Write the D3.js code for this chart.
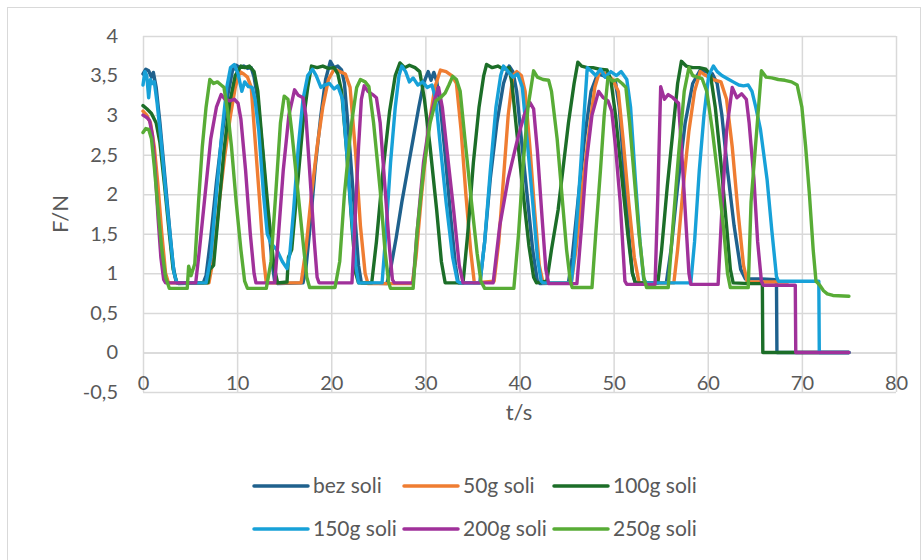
<!DOCTYPE html>
<html><head><meta charset="utf-8">
<script src="https://cdn.jsdelivr.net/npm/d3@7"></script>
<style>
body{margin:0;background:#fff;}
svg text{font-family:Lato,"Open Sans",sans-serif;fill:#595959;}
</style>
</head><body>
<svg id="chart" width="923" height="560"></svg>
<script>
// ---------- data ----------
const seriesNames = ["bez soli","50g soli","100g soli","150g soli","200g soli","250g soli"];
const seriesColors = ["#1f618d","#ef7d32","#1c6e28","#17a1d8","#a0319a","#58ac36"];
const xTicks = [0,10,20,30,40,50,60,70,80];
const yTicks = [-0.5,0,0.5,1,1.5,2,2.5,3,3.5,4];
const xTitle = "t/s";
const yTitle = "F/N";

const bezSoli = [[0,3.52],[0.3,3.58],[0.6,3.56],[0.9,3.48],[1.1,3.54],[1.4,3.35],[1.8,2.9],[2.3,2.25],[2.8,1.6],[3.2,1.1],[3.5,0.9],[3.8,0.87],[6.4,0.88],[6.7,0.97],[7.2,1.45],[7.8,2.15],[8.4,2.75],[9.0,3.25],[9.5,3.56],[9.9,3.63],[10.3,3.6],[10.7,3.62],[11.1,3.59],[11.5,3.6],[11.8,3.48],[12.2,3.2],[12.7,2.55],[13.2,1.8],[13.7,1.15],[14.0,0.89],[14.3,0.87],[17.0,0.88],[17.3,1.05],[17.8,1.65],[18.3,2.35],[18.9,3.0],[19.4,3.45],[19.9,3.68],[20.3,3.6],[20.7,3.62],[21.1,3.57],[21.4,3.4],[21.9,2.7],[22.4,1.9],[22.9,1.1],[23.2,0.88],[25.9,0.87],[26.3,1.05],[26.9,1.45],[27.5,1.9],[28.1,2.3],[28.7,2.7],[29.3,3.1],[29.8,3.4],[30.3,3.55],[30.6,3.44],[30.9,3.54],[31.2,3.43],[31.6,3.1],[32.1,2.5],[32.7,1.7],[33.2,1.1],[33.5,0.88],[35.8,0.88],[36.3,1.4],[36.9,2.2],[37.6,2.9],[38.3,3.4],[38.9,3.62],[39.3,3.55],[39.7,3.3],[40.2,2.7],[40.8,2.0],[41.4,1.3],[41.9,0.9],[42.2,0.87],[45.2,0.88],[45.6,1.2],[46.2,1.9],[46.9,2.7],[47.6,3.3],[48.3,3.52],[48.9,3.5],[49.5,3.46],[50.2,3.42],[50.6,3.1],[51.1,2.3],[51.6,1.5],[52.0,1.0],[52.3,0.88],[55.6,0.88],[56.1,1.3],[56.8,2.1],[57.6,2.9],[58.4,3.4],[59.2,3.57],[59.8,3.55],[60.5,3.52],[61.0,3.4],[61.5,3.0],[62.1,2.3],[62.8,1.6],[63.5,1.05],[64.0,0.93],[65.5,0.93],[67.3,0.92],[67.35,0],[75,0]];

const soli50 = [[0,3.05],[0.4,3.0],[0.8,2.9],[1.2,2.6],[1.6,2.1],[2.0,1.5],[2.4,1.0],[2.7,0.88],[7.0,0.88],[7.5,1.2],[8.1,1.9],[8.7,2.5],[9.3,3.0],[9.8,3.35],[10.3,3.55],[10.7,3.52],[11.1,3.48],[11.5,3.35],[11.9,2.7],[12.4,1.9],[12.8,1.2],[13.1,0.88],[16.8,0.88],[17.3,1.3],[17.9,2.0],[18.5,2.6],[19.1,3.1],[19.7,3.45],[20.3,3.58],[20.9,3.55],[21.5,3.52],[22.0,3.35],[22.6,2.5],[23.1,1.6],[23.6,1.0],[23.9,0.87],[28.6,0.87],[29.0,1.2],[29.6,2.0],[30.3,2.8],[31.0,3.35],[31.6,3.57],[32.2,3.55],[32.8,3.5],[33.3,3.4],[33.8,2.8],[34.3,2.0],[34.8,1.3],[35.2,0.88],[37.3,0.9],[37.8,1.4],[38.3,2.2],[38.8,3.0],[39.3,3.5],[39.7,3.55],[40.2,3.5],[40.6,3.3],[41.1,2.6],[41.6,1.8],[42.1,1.1],[42.5,0.88],[45.5,0.88],[46.0,1.3],[46.7,2.1],[47.4,2.8],[48.0,3.35],[48.5,3.55],[49.2,3.52],[49.9,3.45],[50.5,3.3],[51.0,2.7],[51.6,1.9],[52.2,1.2],[52.7,0.88],[56.4,0.88],[56.8,1.3],[57.4,2.1],[58.0,2.8],[58.6,3.3],[59.2,3.55],[59.8,3.5],[60.6,3.45],[61.4,3.42],[62.0,3.2],[62.6,2.6],[63.2,1.8],[63.8,1.1],[64.2,0.89],[66.0,0.89],[68.5,0.89]];

const soli100 = [[0,3.12],[0.4,3.08],[0.9,3.02],[1.4,2.9],[1.8,2.65],[2.3,2.1],[2.8,1.5],[3.2,1.05],[3.6,0.88],[6.9,0.88],[7.1,1.05],[7.5,1.1],[8.0,1.75],[8.6,2.55],[9.2,3.15],[9.8,3.5],[10.4,3.62],[10.8,3.6],[11.3,3.62],[11.8,3.55],[12.2,3.3],[12.7,2.6],[13.3,1.8],[13.9,1.1],[14.3,0.88],[15.3,0.89],[15.45,1.2],[15.8,1.3],[16.4,2.1],[17.0,2.9],[17.5,3.35],[17.9,3.62],[18.5,3.6],[19.1,3.62],[19.7,3.59],[20.3,3.6],[20.7,3.52],[21.1,3.3],[21.6,2.6],[22.2,1.6],[22.6,1.0],[22.9,0.88],[24.3,0.88],[24.8,1.4],[25.5,2.3],[26.2,3.05],[26.8,3.5],[27.3,3.66],[27.8,3.6],[28.3,3.63],[28.9,3.6],[29.4,3.55],[29.9,3.2],[30.5,2.6],[31.2,1.8],[31.7,1.15],[32.1,0.88],[34.0,0.88],[34.5,1.5],[35.1,2.4],[35.7,3.1],[36.2,3.5],[36.5,3.64],[37.1,3.6],[37.7,3.62],[38.3,3.58],[38.9,3.6],[39.2,3.4],[39.7,2.8],[40.4,2.0],[41.0,1.35],[41.5,0.95],[41.8,0.88],[42.9,0.9],[43.4,1.3],[44.1,1.8],[44.7,2.4],[45.2,2.9],[45.8,3.4],[46.2,3.67],[46.6,3.62],[47.2,3.6],[47.8,3.6],[48.5,3.58],[49.3,3.57],[49.7,3.45],[50.2,3.0],[50.8,2.3],[51.5,1.5],[52.0,1.0],[52.3,0.88],[54.7,0.88],[55.1,1.3],[55.7,2.1],[56.3,2.8],[56.8,3.4],[57.2,3.68],[57.7,3.62],[58.4,3.6],[59.1,3.6],[59.8,3.58],[60.3,3.5],[60.8,3.1],[61.4,2.4],[62.0,1.6],[62.4,1.05],[62.7,0.88],[64.5,0.87],[65.8,0.87],[65.85,0],[75,0]];

const soli150 = [[0,3.38],[0.2,3.55],[0.4,3.5],[0.6,3.22],[0.8,3.45],[1.0,3.4],[1.2,3.42],[1.5,3.15],[1.9,2.7],[2.4,2.05],[2.9,1.45],[3.3,1.0],[3.6,0.88],[6.7,0.88],[7.2,1.2],[7.8,2.0],[8.4,2.8],[8.9,3.35],[9.3,3.6],[9.7,3.64],[10.1,3.52],[10.5,3.3],[10.8,3.42],[11.2,3.36],[11.6,3.35],[11.9,3.2],[12.3,2.8],[12.8,2.0],[13.2,1.5],[13.6,1.38],[14.2,1.3],[14.8,1.15],[15.3,1.06],[15.6,1.25],[16.0,1.8],[16.5,2.6],[17.0,3.2],[17.5,3.5],[18.0,3.58],[18.4,3.5],[18.9,3.35],[19.3,3.38],[19.8,3.4],[20.3,3.33],[20.7,3.37],[21.2,3.2],[21.6,2.6],[22.1,1.8],[22.6,1.1],[22.9,0.88],[25.4,0.88],[25.8,1.5],[26.3,2.4],[26.8,3.1],[27.2,3.5],[27.5,3.62],[27.9,3.55],[28.3,3.42],[28.7,3.47],[29.2,3.38],[29.7,3.42],[30.2,3.35],[30.7,3.38],[31.1,3.2],[31.6,2.6],[32.2,1.9],[32.9,1.2],[33.4,0.9],[33.7,0.88],[35.8,0.88],[36.3,1.4],[36.9,2.3],[37.5,3.1],[38.0,3.5],[38.3,3.62],[38.8,3.55],[39.3,3.48],[39.8,3.52],[40.3,3.35],[40.8,2.7],[41.4,1.9],[41.9,1.2],[42.3,0.9],[42.5,0.88],[45.5,0.88],[45.8,1.2],[46.3,2.0],[46.8,2.9],[47.2,3.6],[47.6,3.56],[48.1,3.5],[48.6,3.58],[49.1,3.48],[49.7,3.55],[50.3,3.5],[50.8,3.55],[51.4,3.45],[51.8,3.1],[52.3,2.2],[52.8,1.4],[53.2,0.92],[53.5,0.88],[58.2,0.88],[58.6,1.4],[59.1,2.3],[59.6,3.0],[60.1,3.5],[60.6,3.62],[61.0,3.55],[61.5,3.5],[62.1,3.46],[62.7,3.42],[63.3,3.38],[63.8,3.37],[64.3,3.38],[64.7,3.3],[65.1,3.1],[65.6,2.82],[66.3,2.19],[66.8,1.55],[67.3,0.96],[67.5,0.9],[70.0,0.9],[71.8,0.9],[71.85,0],[75,0]];

const soli200 = [[0,3.0],[0.4,2.97],[0.7,2.93],[1.0,2.75],[1.3,2.3],[1.6,1.7],[1.9,1.2],[2.2,0.92],[2.4,0.88],[5.6,0.88],[6.0,1.3],[6.6,2.0],[7.2,2.7],[7.8,3.1],[8.3,3.26],[8.7,3.2],[9.2,3.18],[9.7,3.2],[10.1,3.15],[10.4,2.95],[10.9,2.3],[11.4,1.5],[11.8,1.0],[12.0,0.88],[14.0,0.88],[14.4,1.5],[14.9,2.3],[15.5,3.0],[16.1,3.32],[16.5,3.25],[17.0,3.22],[17.3,3.0],[17.7,2.3],[18.2,1.4],[18.5,0.95],[18.7,0.88],[22.2,0.88],[22.5,1.6],[22.9,2.6],[23.2,3.2],[23.5,3.37],[23.9,3.3],[24.4,3.26],[24.8,3.22],[25.2,2.9],[25.7,2.1],[26.2,1.3],[26.5,0.92],[26.7,0.88],[28.7,0.88],[29.1,1.5],[29.8,2.4],[30.5,2.95],[31.0,3.2],[31.4,3.35],[31.8,3.1],[32.3,2.55],[33.0,1.8],[33.6,1.1],[34.0,0.88],[37.2,0.88],[37.9,1.6],[38.8,2.2],[39.8,2.7],[40.5,3.0],[41.1,3.16],[41.5,3.08],[41.9,2.55],[42.4,1.7],[42.8,1.05],[43.1,0.87],[46.1,0.87],[46.6,1.6],[47.1,2.4],[47.7,3.0],[48.4,3.3],[48.9,3.22],[49.4,3.18],[49.8,3.05],[50.2,2.6],[50.7,1.9],[51.0,1.3],[51.2,0.9],[51.4,0.86],[54.4,0.86],[54.7,2.0],[55.0,3.36],[55.4,3.2],[55.8,3.26],[56.3,3.22],[56.9,3.15],[57.3,2.4],[57.7,1.6],[58.0,1.0],[58.2,0.86],[61.1,0.86],[61.5,1.8],[62.0,2.8],[62.6,3.35],[63.1,3.22],[63.6,3.27],[64.1,3.2],[64.4,2.9],[64.9,2.2],[65.3,1.4],[65.7,0.9],[65.9,0.85],[69.3,0.85],[69.35,0],[75,0]];

const soli250 = [[0,2.78],[0.3,2.83],[0.6,2.82],[0.9,2.7],[1.2,2.35],[1.6,1.8],[2.0,1.3],[2.4,0.95],[2.8,0.81],[4.7,0.81],[4.85,1.09],[5.1,0.97],[5.5,1.12],[5.9,1.9],[6.3,2.6],[6.7,3.1],[7.1,3.45],[7.5,3.4],[7.9,3.42],[8.3,3.38],[8.6,3.35],[9.0,3.05],[9.4,2.6],[9.9,1.9],[10.4,1.3],[10.8,0.9],[11.1,0.81],[13.1,0.81],[13.6,1.15],[14.1,2.0],[14.6,2.9],[15.0,3.24],[15.4,3.2],[15.8,2.8],[16.4,2.1],[17.0,1.4],[17.4,0.95],[17.7,0.82],[20.4,0.82],[20.9,1.15],[21.4,2.0],[22.1,2.85],[22.7,3.35],[23.1,3.45],[23.6,3.42],[24.0,3.36],[24.5,2.9],[25.2,2.05],[25.7,1.3],[26.1,0.88],[26.3,0.81],[28.7,0.81],[29.1,1.5],[29.8,2.3],[30.5,2.9],[31.1,3.18],[31.6,3.22],[32.1,3.28],[32.5,3.38],[32.9,3.49],[33.3,3.45],[33.7,3.3],[34.2,2.7],[34.9,1.9],[35.5,1.25],[35.9,0.9],[36.3,0.81],[39.4,0.81],[39.9,1.5],[40.4,2.4],[40.9,3.1],[41.5,3.56],[41.9,3.48],[42.5,3.45],[43.1,3.44],[43.4,3.3],[44.0,2.7],[44.5,2.0],[45.0,1.3],[45.4,0.9],[45.6,0.82],[47.7,0.82],[48.1,1.5],[48.6,2.3],[49.0,3.0],[49.4,3.48],[49.9,3.43],[50.4,3.45],[50.9,3.4],[51.3,3.35],[51.7,2.9],[52.2,2.2],[52.7,1.5],[53.2,0.95],[53.5,0.82],[55.8,0.82],[56.3,1.6],[56.9,2.5],[57.5,3.3],[58.0,3.6],[58.4,3.5],[58.9,3.48],[59.4,3.46],[59.9,3.3],[60.5,2.8],[61.1,2.2],[61.7,1.55],[62.1,1.0],[62.4,0.82],[64.3,0.82],[64.6,1.9],[65.2,2.8],[65.7,3.56],[66.2,3.48],[66.8,3.47],[67.5,3.45],[68.2,3.44],[68.9,3.42],[69.5,3.38],[70.0,3.1],[70.4,2.6],[70.8,2.0],[71.2,1.3],[71.5,0.9],[71.9,0.85],[72.3,0.78],[72.7,0.74],[73.3,0.72],[75,0.71]];

const seriesData = [bezSoli, soli50, soli100, soli150, soli200, soli250];

// ---------- layout ----------
const svg = d3.select("#chart");
const W = 923, H = 560;
const x = d3.scaleLinear().domain([0,80]).range([143,896]);
const y = d3.scaleLinear().domain([-0.5,4]).range([392,36]);
const fmt = d => String(d).replace(".", ",");

svg.append("rect").attr("width",W).attr("height",H).attr("fill","#fff");
svg.append("rect").attr("x",7.5).attr("y",7.5).attr("width",913).attr("height",H)
  .attr("fill","none").attr("stroke","#d9d9d9").attr("stroke-width",1);

// horizontal gridlines + y labels
const yAxis = d3.axisLeft(y).tickValues(yTicks).tickFormat(fmt)
  .tickSize(-(x(80)-x(0))).tickPadding(25);
const gy = svg.append("g").attr("transform",`translate(${x(0)},0)`).call(yAxis);
gy.select(".domain").remove();
gy.selectAll(".tick line").attr("stroke","#d9d9d9").attr("stroke-width",1.5);
gy.selectAll(".tick text").attr("font-size",20).attr("fill","#595959")
  .attr("font-family","Lato");

// vertical gridlines
const xGrid = d3.axisBottom(x).tickValues(xTicks).tickSize(-(y(-0.5)-y(4))).tickFormat("");
const gxg = svg.append("g").attr("transform",`translate(0,${y(-0.5)})`).call(xGrid);
gxg.select(".domain").remove();
gxg.selectAll(".tick line").attr("stroke","#d9d9d9").attr("stroke-width",1.5);

// x axis labels at y = 0
const xAxis = d3.axisBottom(x).tickValues(xTicks).tickFormat(fmt).tickSize(0).tickPadding(23);
const gx = svg.append("g").attr("transform",`translate(0,${y(0)})`).call(xAxis);
gx.select(".domain").attr("stroke","#d9d9d9").attr("stroke-width",1.5);
gx.selectAll(".tick text").attr("font-size",20).attr("fill","#595959")
  .attr("font-family","Lato");

// series
const line = d3.line().x(d => x(d[0])).y(d => y(d[1]));
const gs = svg.append("g");
seriesData.forEach((s,i) => {
  gs.append("path").datum(s).attr("d",line)
    .attr("fill","none").attr("stroke",seriesColors[i])
    .attr("stroke-width",3.4).attr("stroke-linejoin","round").attr("stroke-linecap","round");
});

// axis titles
svg.append("text").attr("transform","translate(68,214) rotate(-90)")
  .attr("text-anchor","middle").attr("font-size",22).text(yTitle);
svg.append("text").attr("x",519).attr("y",420)
  .attr("text-anchor","middle").attr("font-size",22).text(xTitle);

// legend
const legX = [254,404,554];
const legY = [486,529];
seriesNames.forEach((n,i) => {
  const lx = legX[i%3], ly = legY[Math.floor(i/3)];
  const g = svg.append("g").attr("class","legend");
  g.append("line").attr("x1",lx).attr("x2",lx+54).attr("y1",ly).attr("y2",ly)
    .attr("stroke",seriesColors[i]).attr("stroke-width",3.5).attr("stroke-linecap","round");
  g.append("text").attr("x",lx+59).attr("y",ly).attr("dy","0.35em")
    .attr("font-size",21).text(n);
});
</script>
</body></html>
